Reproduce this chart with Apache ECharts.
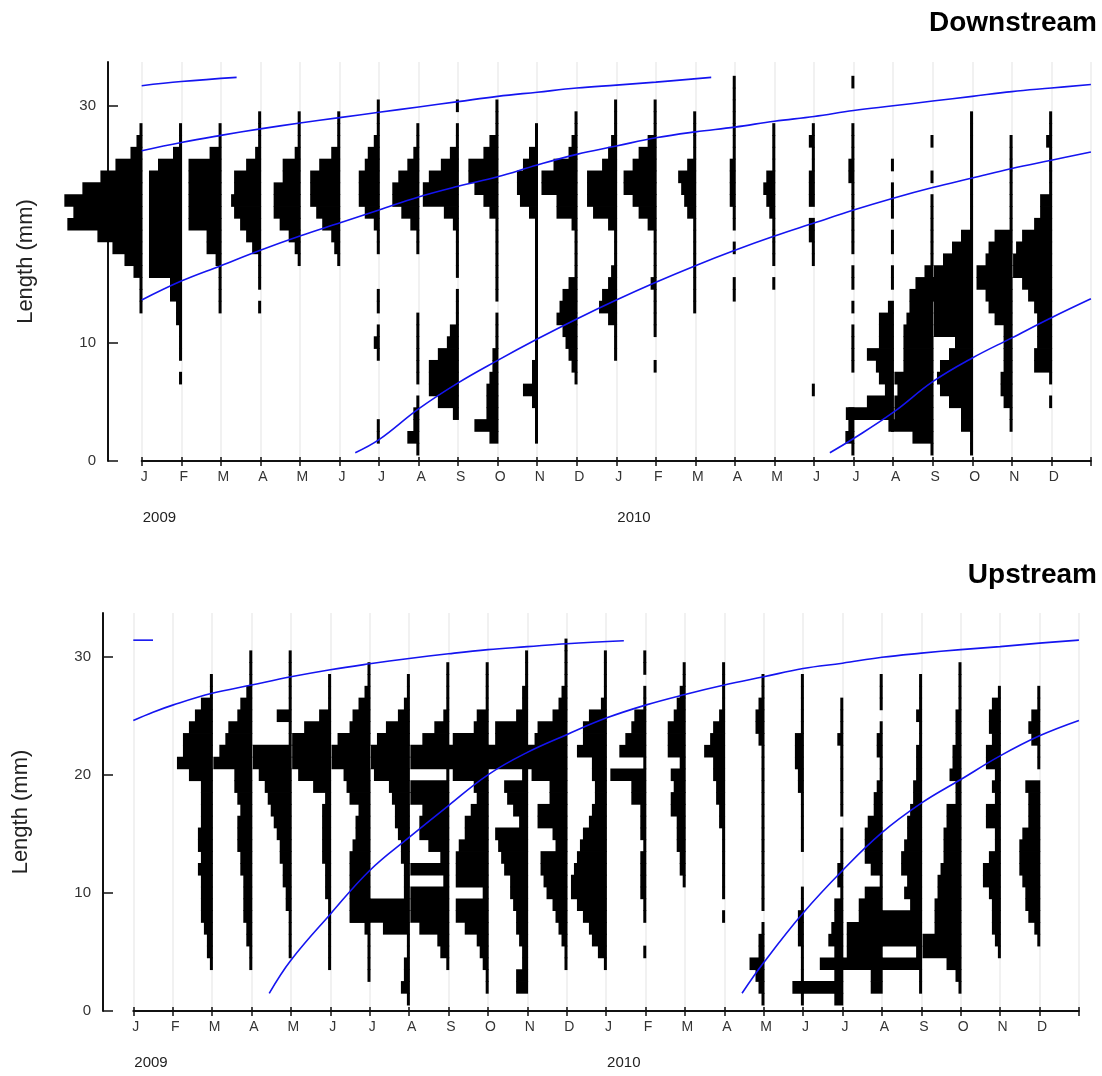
<!DOCTYPE html>
<html>
<head>
<meta charset="utf-8">
<title>Length frequency - Downstream / Upstream</title>
<script src="https://cdn.jsdelivr.net/npm/echarts@6/dist/echarts.min.js"></script>
<style>
  html, body { margin: 0; padding: 0; background: #fff; }
  #main { width: 1102px; height: 1076px; }
</style>
</head>
<body>
<div id="main"></div>
<script>
// x axis: months since Jan 2009 (0..24)
var monthLabels = ["J","F","M","A","M","J","J","A","S","O","N","D",
                   "J","F","M","A","M","J","J","A","S","O","N","D"];
var yearLabels = ["2009", "2010"];
var yTicksDown = [0, 10, 30];
var yTicksUp = [0, 10, 20, 30];

// length frequencies: one row per monthly sample, [length bin (mm), number of fish]
var down2009 = [
  [[28,1],[27,2],[26,4],[25,9],[24,14],[23,20],[22,26],[21,23],[20,25],[19,15],[18,10],[17,6],[16,3],[15,1],[14,1],[13,1]],
  [[28,1],[27,1],[26,3],[25,8],[24,11],[23,11],[22,11],[21,11],[20,11],[19,11],[18,11],[17,11],[16,11],[15,4],[14,4],[13,2],[12,2],[11,1],[10,1],[9,1],[7,1]],
  [[28,1],[27,1],[26,4],[25,11],[24,11],[23,11],[22,11],[21,11],[20,11],[19,5],[18,5],[17,2],[16,1],[15,1],[14,1],[13,1]],
  [[29,1],[28,1],[27,1],[26,2],[25,5],[24,9],[23,9],[22,10],[21,9],[20,7],[19,5],[18,3],[17,1],[16,1],[15,1],[13,1]],
  [[29,1],[28,1],[27,1],[26,2],[25,6],[24,6],[23,9],[22,9],[21,9],[20,7],[19,4],[18,2],[17,1]],
  [[29,1],[28,1],[27,1],[26,3],[25,7],[24,10],[23,10],[22,10],[21,8],[20,6],[19,3],[18,2],[17,1]],
  [[30,1],[29,1],[28,1],[27,2],[26,4],[25,5],[24,7],[23,7],[22,7],[21,5],[20,2],[19,1],[18,1],[14,1],[13,1],[11,1],[10,2],[9,1],[3,1],[2,1]],
  [[28,1],[27,1],[26,2],[25,4],[24,7],[23,9],[22,9],[21,6],[20,3],[19,1],[18,1],[12,1],[11,1],[10,1],[9,1],[8,1],[7,1],[5,1],[4,2],[3,2],[2,4],[1,1]],
  [[30,1],[28,1],[27,1],[26,3],[25,6],[24,10],[23,12],[22,12],[21,5],[20,2],[19,1],[18,1],[17,1],[16,1],[14,1],[13,1],[12,1],[11,3],[10,4],[9,7],[8,10],[7,10],[6,10],[5,7],[4,2]],
  [[30,1],[29,1],[28,1],[27,3],[26,5],[25,10],[24,10],[23,8],[22,5],[21,3],[20,1],[19,1],[18,1],[17,1],[16,1],[15,1],[14,1],[12,1],[11,1],[10,1],[9,2],[8,2],[7,3],[6,4],[5,4],[4,4],[3,8],[2,3]],
  [[28,1],[27,1],[26,3],[25,5],[24,7],[23,7],[22,6],[21,3],[20,1],[19,1],[18,1],[17,1],[16,1],[15,1],[14,1],[13,1],[12,1],[11,1],[10,1],[9,1],[8,2],[7,2],[6,5],[5,2],[4,1],[3,1],[2,1]],
  [[29,1],[28,1],[27,2],[26,3],[25,8],[24,12],[23,12],[22,7],[21,7],[20,2],[19,1],[18,1],[17,1],[16,1],[15,3],[14,5],[13,6],[12,7],[11,5],[10,4],[9,3],[8,2],[7,1]]
];
var down2010 = [
  [[30,1],[29,1],[28,1],[27,2],[26,3],[25,5],[24,10],[23,10],[22,10],[21,8],[20,3],[19,1],[18,1],[17,1],[16,2],[15,3],[14,5],[13,6],[12,3],[11,1],[10,1],[9,1]],
  [[30,1],[29,1],[28,1],[27,3],[26,6],[25,8],[24,11],[23,11],[22,8],[21,6],[20,3],[19,1],[18,1],[17,1],[16,1],[15,2],[14,1],[13,1],[12,1],[11,1],[8,1]],
  [[29,1],[28,1],[27,1],[26,1],[25,3],[24,6],[23,5],[22,4],[21,3],[20,1],[19,1],[18,1],[17,1],[16,1],[15,1],[14,1],[13,1]],
  [[32,1],[31,1],[30,1],[29,1],[28,1],[27,1],[26,1],[25,2],[24,2],[23,2],[22,2],[21,1],[20,1],[18,1],[15,1],[14,1]],
  [[28,1],[27,1],[26,1],[25,1],[24,3],[23,4],[22,3],[21,2],[20,1],[19,1],[18,1],[17,1],[15,1]],
  [[28,1],[27,2],[26,1],[25,1],[24,2],[23,2],[22,2],[20,2],[19,2],[18,1],[17,1],[6,1]],
  [[32,1],[28,1],[27,1],[26,1],[25,2],[24,2],[23,1],[22,1],[21,1],[20,1],[19,1],[18,1],[16,1],[15,1],[13,1],[11,1],[10,1],[9,1],[8,1],[4,2],[3,2],[2,3],[1,1]],
  [[25,1],[23,1],[22,1],[21,1],[19,1],[18,1],[16,1],[15,1],[13,2],[12,5],[11,5],[10,5],[9,9],[8,6],[7,5],[6,3],[5,9],[4,16],[3,1]],
  [[27,1],[24,1],[22,1],[21,1],[20,1],[19,1],[18,1],[17,1],[16,3],[15,6],[14,8],[13,8],[12,9],[11,10],[10,10],[9,10],[8,10],[7,13],[6,12],[5,13],[4,13],[3,15],[2,7],[1,1]],
  [[29,1],[28,1],[27,1],[26,1],[25,1],[24,1],[23,1],[22,1],[21,1],[20,1],[19,4],[18,7],[17,10],[16,13],[15,14],[14,14],[13,13],[12,13],[11,13],[10,6],[9,8],[8,11],[7,12],[6,11],[5,8],[4,4],[3,4],[2,1],[1,1]],
  [[27,1],[26,1],[25,1],[24,1],[23,1],[22,1],[21,1],[20,1],[19,6],[18,8],[17,9],[16,12],[15,12],[14,9],[13,8],[12,6],[11,3],[10,3],[9,3],[8,3],[7,4],[6,4],[5,3],[4,1],[3,1]],
  [[29,1],[28,1],[27,2],[26,1],[25,1],[24,1],[23,1],[22,4],[21,4],[20,6],[19,10],[18,12],[17,13],[16,13],[15,10],[14,8],[13,6],[12,5],[11,5],[10,5],[9,6],[8,6],[7,1],[5,1]]
];
var up2009 = [
  [],
  [],
  [[28,1],[27,1],[26,4],[25,6],[24,8],[23,10],[22,10],[21,12],[20,8],[19,4],[18,4],[17,4],[16,4],[15,5],[14,5],[13,4],[12,5],[11,4],[10,4],[9,4],[8,4],[7,3],[6,2],[5,2],[4,1]],
  [[30,1],[29,1],[28,1],[27,2],[26,4],[25,5],[24,8],[23,9],[22,11],[21,13],[20,6],[19,6],[18,5],[17,4],[16,5],[15,5],[14,5],[13,4],[12,4],[11,3],[10,3],[9,3],[8,3],[7,2],[6,2],[5,1],[4,1]],
  [[30,1],[29,1],[28,1],[27,1],[26,1],[25,5],[24,1],[23,1],[22,13],[21,13],[20,11],[19,9],[18,8],[17,7],[16,6],[15,5],[14,4],[13,4],[12,3],[11,3],[10,2],[9,2],[8,1],[7,1],[6,1],[5,1]],
  [[28,1],[27,1],[26,1],[25,4],[24,9],[23,13],[22,13],[21,13],[20,11],[19,6],[18,2],[17,3],[16,3],[15,3],[14,3],[13,3],[12,2],[11,2],[10,2],[9,1],[8,1],[7,1],[6,1],[5,1],[4,1]],
  [[29,1],[28,1],[27,2],[26,4],[25,6],[24,7],[23,11],[22,13],[21,13],[20,9],[19,8],[18,7],[17,4],[16,5],[15,5],[14,6],[13,7],[12,7],[11,7],[10,7],[9,7],[8,7],[7,2],[6,1],[5,1],[4,1],[3,1]],
  [[28,1],[27,1],[26,2],[25,4],[24,8],[23,11],[22,13],[21,13],[20,12],[19,7],[18,6],[17,5],[16,5],[15,4],[14,3],[13,3],[12,2],[11,2],[10,2],[9,20],[8,20],[7,9],[6,1],[5,1],[4,2],[3,2],[2,3],[1,1]],
  [[29,1],[28,1],[27,1],[26,1],[25,2],[24,5],[23,9],[22,13],[21,13],[20,1],[19,13],[18,13],[17,9],[16,10],[15,10],[14,7],[13,3],[12,13],[11,2],[10,13],[9,13],[8,13],[7,10],[6,4],[5,3],[4,1]],
  [[29,1],[28,1],[27,1],[26,1],[25,4],[24,5],[23,12],[22,14],[21,14],[20,12],[19,5],[18,4],[17,6],[16,8],[15,8],[14,10],[13,11],[12,11],[11,11],[10,2],[9,11],[8,11],[7,8],[6,4],[5,3],[4,2],[3,1],[2,1]],
  [[30,1],[29,1],[28,1],[27,2],[26,2],[25,4],[24,11],[23,11],[22,14],[21,14],[20,2],[19,8],[18,7],[17,5],[16,3],[15,11],[14,10],[13,9],[12,8],[11,6],[10,6],[9,5],[8,4],[7,4],[6,3],[5,2],[4,2],[3,4],[2,4]],
  [[31,1],[30,1],[29,1],[28,1],[27,2],[26,3],[25,5],[24,10],[23,11],[22,14],[21,14],[20,12],[19,6],[18,6],[17,10],[16,10],[15,5],[14,4],[13,9],[12,9],[11,8],[10,7],[9,5],[8,4],[7,3],[6,2],[5,1],[4,1]]
];
var up2010 = [
  [[30,1],[29,1],[28,1],[27,1],[26,2],[25,6],[24,8],[23,8],[22,10],[21,5],[20,5],[19,4],[18,4],[17,5],[16,6],[15,8],[14,9],[13,10],[12,11],[11,12],[10,12],[9,10],[8,8],[7,6],[6,5],[5,3],[4,1]],
  [[30,1],[29,1],[27,1],[26,1],[25,4],[24,5],[23,7],[22,9],[21,1],[20,12],[19,5],[18,5],[17,2],[16,2],[15,2],[14,1],[13,2],[12,2],[11,2],[10,2],[9,1],[8,1],[5,1]],
  [[29,1],[28,1],[27,2],[26,3],[25,4],[24,6],[23,6],[22,6],[21,2],[20,5],[19,4],[18,5],[17,5],[16,3],[15,3],[14,3],[13,2],[12,2],[11,1]],
  [[29,1],[28,1],[27,1],[26,1],[25,2],[24,4],[23,5],[22,7],[21,4],[20,4],[19,3],[18,3],[17,2],[16,2],[15,1],[14,1],[13,1],[12,1],[11,1],[10,1],[8,1]],
  [[28,1],[27,1],[26,2],[25,3],[24,3],[23,2],[22,1],[21,1],[20,1],[19,1],[18,1],[17,1],[16,1],[15,1],[14,1],[13,1],[12,1],[11,1],[10,1],[9,1],[7,1],[6,2],[5,2],[4,5],[3,3],[2,2],[1,1]],
  [[28,1],[27,1],[26,1],[25,1],[24,1],[23,3],[22,3],[21,3],[20,2],[19,2],[18,1],[17,1],[16,1],[15,1],[14,1],[10,1],[9,1],[8,2],[7,2],[6,2],[5,1],[4,1],[3,1],[2,1],[1,1]],
  [[26,1],[25,1],[24,1],[23,2],[22,1],[21,1],[20,1],[19,1],[18,1],[17,1],[15,1],[14,1],[13,1],[12,2],[11,2],[10,1],[9,3],[8,3],[7,4],[6,5],[5,3],[4,2],[3,3],[2,17],[1,3]],
  [[28,1],[27,1],[26,1],[24,1],[23,2],[22,2],[21,1],[20,1],[19,2],[18,3],[17,3],[16,5],[15,6],[14,6],[13,6],[12,4],[11,1],[10,6],[9,8],[8,8],[7,12],[6,12],[5,12],[4,21],[3,4],[2,4]],
  [[28,1],[27,1],[26,1],[25,2],[24,1],[23,1],[22,2],[21,2],[20,2],[19,3],[18,3],[17,4],[16,5],[15,5],[14,6],[13,7],[12,7],[11,5],[10,6],[9,4],[8,14],[7,14],[6,14],[5,2],[4,14],[3,1],[2,1]],
  [[29,1],[28,1],[27,1],[26,1],[25,2],[24,2],[23,2],[22,3],[21,3],[20,4],[19,2],[18,2],[17,5],[16,5],[15,6],[14,6],[13,6],[12,7],[11,8],[10,8],[9,9],[8,9],[7,9],[6,13],[5,13],[4,5],[3,2],[2,1]],
  [[27,1],[26,3],[25,4],[24,4],[23,3],[22,5],[21,5],[20,2],[19,3],[18,2],[17,5],[16,5],[15,2],[14,2],[13,4],[12,6],[11,6],[10,4],[9,3],[8,3],[7,3],[6,2],[5,1]],
  [[27,1],[26,1],[25,3],[24,4],[23,3],[22,1],[21,1],[19,5],[18,4],[17,4],[16,4],[15,6],[14,7],[13,7],[12,7],[11,6],[10,5],[9,5],[8,4],[7,2],[6,1]]
];

// fitted growth curves, [month, length mm]
var downCurves = [
  [[0,31.7],[1,32.05],[2.4,32.4]],
  [[0,26.2],[1,26.9],[2,27.5],[3,28.05],[4,28.55],[5,29.0],[6,29.45],[7,29.9],[8,30.35],[9,30.8],[10,31.15],[11,31.5],[12,31.75],[13,32.0],[14.4,32.4]],
  [[0,13.6],[1,15.2],[2,16.5],[3,17.8],[4,19.0],[5,20.1],[6,21.2],[7,22.3],[8,23.2],[9,24.0],[10,25.0],[11,25.9],[12,26.6],[13,27.3],[14,27.8],[15,28.2],[16,28.7],[17,29.1],[18,29.6],[19,30.0],[20,30.4],[21,30.8],[22,31.2],[23,31.5],[24,31.8]],
  [[5.4,0.7],[6,1.8],[7,4.4],[8,6.6],[9,8.5],[10,10.3],[11,12.0],[12,13.6],[13,15.1],[14,16.5],[15,17.8],[16,19.0],[17,20.1],[18,21.2],[19,22.2],[20,23.1],[21,23.9],[22,24.7],[23,25.4],[24,26.1]],
  [[17.4,0.7],[18,1.9],[19,4.1],[20,6.7],[21,8.7],[22,10.4],[23,12.1],[24,13.7]]
];
var upCurves = [
  [[0,31.4],[0.5,31.4]],
  [[0,24.6],[0.5,25.3],[1,25.9],[2,26.9],[3,27.6],[4,28.3],[5,28.9],[6,29.4],[7,29.85],[8,30.25],[9,30.6],[10,30.85],[11,31.1],[12.45,31.35]],
  [[3.45,1.5],[4,4.3],[5,8.2],[6,11.9],[7,14.7],[8,17.4],[9,20.0],[10,21.9],[11,23.4],[12,24.8],[13,25.9],[14,26.8],[15,27.6],[16,28.3],[17,29.0],[18,29.45],[19,29.95],[20,30.3],[21,30.6],[22,30.85],[23,31.15],[24,31.4]],
  [[15.45,1.5],[16,4.1],[17,8.3],[18,11.9],[19,15.1],[20,17.6],[21,19.6],[22,21.6],[23,23.3],[24,24.6]]
];

var FONT = "Liberation Sans, Arial, sans-serif";
var COUNT_W = 0.076; // axis months per fish

function toBars(rowsA, rowsB) {
  var out = [];
  rowsA.concat(rowsB).forEach(function (row, m) {
    row.forEach(function (p) { out.push([m, p[0], p[1]]); });
  });
  return out;
}

function renderBar(params, api) {
  var m = api.value(0), k = api.value(1), n = api.value(2);
  var tr = api.coord([m + 0.02, k + 0.5]);
  var bl = api.coord([m + 0.02 - n * COUNT_W, k - 0.5]);
  return {
    type: "rect",
    shape: { x: bl[0], y: tr[1] - 0.4, width: tr[0] - bl[0], height: bl[1] - tr[1] + 0.8 },
    style: { fill: "#000" }
  };
}

function xMain(grid) {
  return {
    type: "value", gridIndex: grid, min: 0, max: 24, interval: 1, position: "bottom",
    axisLine: { lineStyle: { color: "#111", width: 2 } },
    axisTick: { show: true, inside: false, length: 5, lineStyle: { color: "#111", width: 1.5 } },
    axisLabel: {
      color: "#333", fontSize: 14, fontFamily: FONT, margin: 9, padding: [0, 0, 0, 5],
      formatter: function (v) { return monthLabels[v] || ""; }
    },
    splitLine: { show: true, lineStyle: { color: "#ececec", width: 1.5 } }
  };
}
// second axis only for the short upward half of each tick
function xTickUp(grid, h) {
  return {
    type: "value", gridIndex: grid, min: 0, max: 24, interval: 1, position: "top", offset: -h,
    axisLine: { show: false },
    axisTick: { show: true, inside: false, length: 4, lineStyle: { color: "#111", width: 1.5 } },
    axisLabel: { show: false }, splitLine: { show: false }
  };
}
function yAxisFor(grid, off, ticks) {
  return {
    type: "value", gridIndex: grid, min: 0, max: 33.7, interval: 10, offset: off,
    name: "Length (mm)", nameLocation: "middle", nameGap: 71,
    nameTextStyle: { fontSize: 22, color: "#222", fontFamily: FONT },
    axisLine: { show: true, onZero: false, lineStyle: { color: "#111", width: 2 } },
    axisTick: { show: true, inside: true, length: 10, customValues: ticks, lineStyle: { color: "#111", width: 1.5 } },
    axisLabel: { color: "#333", fontSize: 15, fontFamily: FONT, margin: 12, customValues: ticks },
    splitLine: { show: false }
  };
}

function curveSeries(curves, xi, yi) {
  return curves.map(function (pts) {
    return {
      type: "line", xAxisIndex: xi, yAxisIndex: yi, data: pts, smooth: 0.4,
      showSymbol: false, symbol: "none", z: 5, clip: false,
      lineStyle: { color: "#1414f0", width: 1.6 }
    };
  });
}

var chart = echarts.init(document.getElementById("main"), null, { renderer: "canvas" });
chart.setOption({
  animation: false,
  backgroundColor: "#fff",
  title: [
    { text: "Downstream", right: 0, top: 4, textStyle: { fontSize: 28, fontWeight: "bold", color: "#000", fontFamily: FONT } },
    { text: "Upstream", right: 0, top: 556, textStyle: { fontSize: 28, fontWeight: "bold", color: "#000", fontFamily: FONT } }
  ],
  grid: [
    { left: 141.7, top: 62, width: 949.2, height: 399 },
    { left: 133.3, top: 613, width: 945.6, height: 398 }
  ],
  xAxis: [xMain(0), xTickUp(0, 399), xMain(1), xTickUp(1, 398)],
  yAxis: [yAxisFor(0, 33.7, yTicksDown), yAxisFor(1, 30.3, yTicksUp)],
  series: [
    { type: "custom", xAxisIndex: 0, yAxisIndex: 0, renderItem: renderBar, data: toBars(down2009, down2010), clip: false, z: 3 },
    { type: "custom", xAxisIndex: 2, yAxisIndex: 1, renderItem: renderBar, data: toBars(up2009, up2010), clip: false, z: 3 }
  ].concat(curveSeries(downCurves, 0, 0), curveSeries(upCurves, 2, 1))
});

// year captions under January of each year
var yearGraphics = [];
[[0, 0, 510], [2, 1, 1055]].forEach(function (cfg) {
  yearLabels.forEach(function (yr, i) {
    var x = chart.convertToPixel({ xAxisIndex: cfg[0], yAxisIndex: cfg[1] }, [i * 12, 0])[0];
    yearGraphics.push({
      type: "text", left: x + 1, top: cfg[2],
      style: { text: yr, fontSize: 15, fill: "#222", font: "15px " + FONT }
    });
  });
});
chart.setOption({ graphic: yearGraphics });

window.addEventListener("resize", function () { chart.resize(); });
</script>
</body>
</html>
